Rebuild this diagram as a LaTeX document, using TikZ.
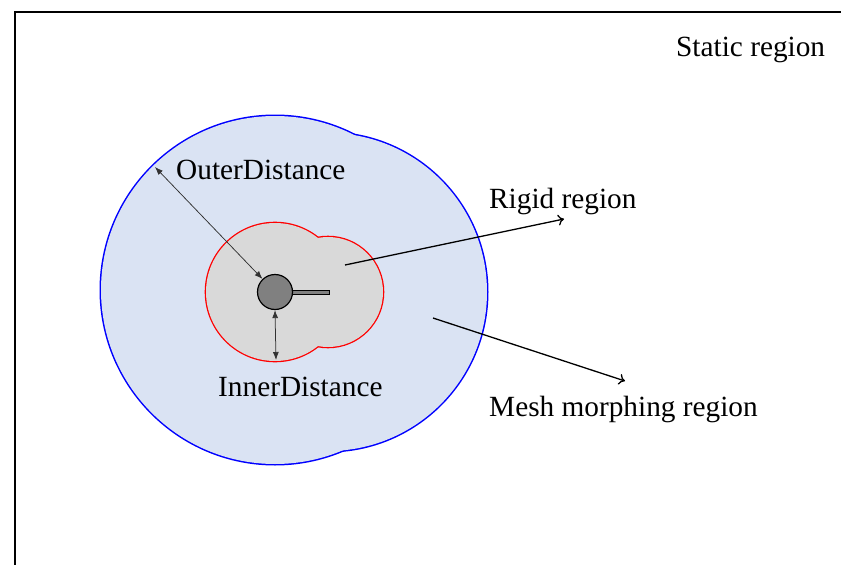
\documentclass[tikz,border=0pt]{standalone}
\usepackage{fontspec}
\setmainfont{Liberation Serif}
\usetikzlibrary{arrows.meta}
\definecolor{meshfill}{RGB}{218,227,243}
\definecolor{rigidfill}{RGB}{217,217,217}
\definecolor{hubfill}{RGB}{128,128,128}
\definecolor{distline}{RGB}{50,50,50}
\tikzset{
  lbl/.style={anchor=base west,inner sep=0pt,font=\fontsize{29.3}{35}\selectfont},
  distarrow/.style={draw=distline,line width=0.75pt,{Latex[length=8pt,width=6pt]}-{Latex[length=8pt,width=6pt]}},
  callout/.style={draw=black,line width=1.3pt,-{To[length=6pt,width=11pt]}},
}
\begin{document}
\begin{tikzpicture}[x=1pt,y=-1pt]
\useasboundingbox (0,0) rectangle (841,565);
\fill[white] (0,0) rectangle (841,565);
% frame
\draw[line width=2.8pt,line cap=rect] (15,565) -- (15,12) -- (841,12);
% mesh morphing region (union of two circles)
\draw[blue,line width=3pt] (275,290) circle[radius=174];
\draw[blue,line width=3pt] (328,292) circle[radius=159];
\fill[meshfill] (275,290) circle[radius=174];
\fill[meshfill] (328,292) circle[radius=159];
% rigid region (union of two circles)
\draw[red,line width=2.6pt] (275,292) circle[radius=69];
\draw[red,line width=2.6pt] (328,292) circle[radius=55];
\fill[rigidfill] (275,292) circle[radius=69];
\fill[rigidfill] (328,292) circle[radius=55];
% hub and blade
\node[draw=black,fill=hubfill,line width=1pt,rectangle,inner sep=0pt,minimum width=37pt,minimum height=4pt,anchor=west] (blade) at (292,292) {};
\node[draw=black,fill=hubfill,line width=1.2pt,circle,inner sep=0pt,minimum size=35pt] (hub) at (275,292) {};
% coordinates
\coordinate (outerEnd) at (155,167);
\coordinate (innerEnd) at (276,360);
\coordinate (rigidStart) at (345,265);
\coordinate (rigidEnd) at (564,219);
\coordinate (meshStart) at (433,318);
\coordinate (meshEnd) at (625,381);
% arrows
\draw[distarrow] (outerEnd) -- (hub);
\draw[distarrow] (hub.south) -- (innerEnd);
\draw[callout] (rigidStart) -- (rigidEnd);
\draw[callout] (meshStart) -- (meshEnd);
% labels
\node[lbl] (static) at (676,56) {Static region};
\node[lbl] (outer) at (176,179) {OuterDistance};
\node[lbl] (rigid) at (489,208) {Rigid region};
\node[lbl] (inner) at (218,396) {InnerDistance};
\node[lbl] (mesh) at (489,416) {Mesh morphing region};
\end{tikzpicture}
\end{document}
